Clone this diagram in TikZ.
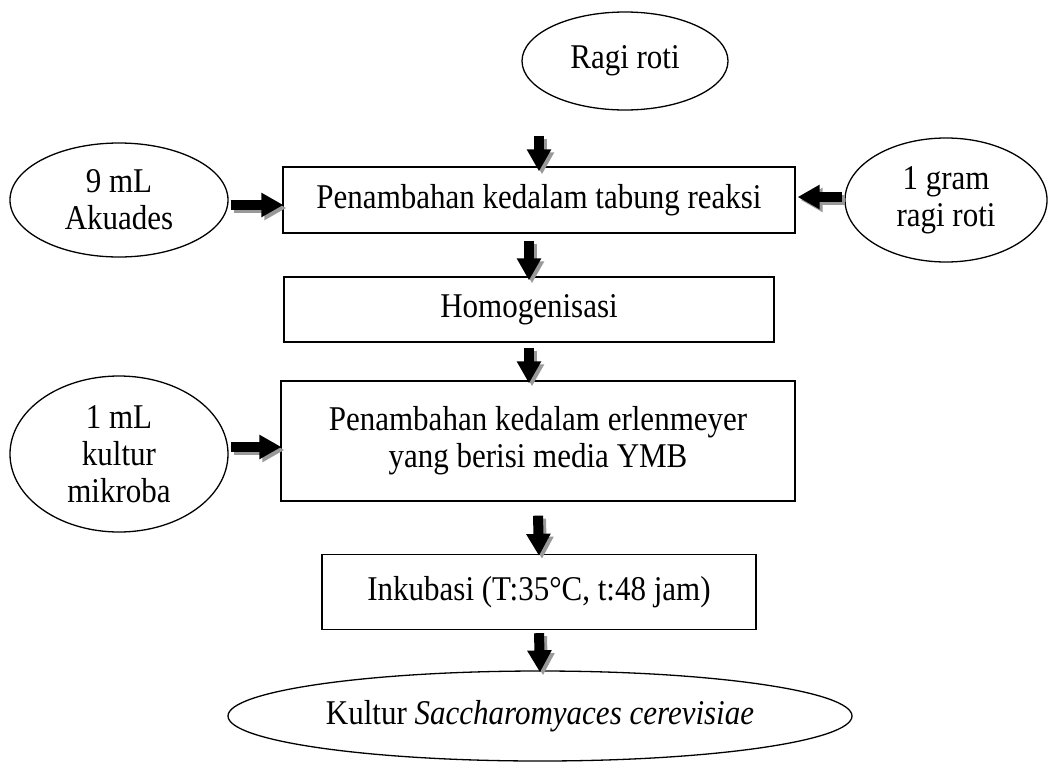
\documentclass[tikz,border=0pt]{standalone}
\usepackage{fontspec}
\usepackage{graphicx}
\setmainfont{Liberation Serif}
\usetikzlibrary{shapes.geometric,arrows.meta,calc}

% block arrow with a grey drop shadow
\newcommand\blockarrow[2]{%
  \draw[blockarr,draw=shadowgrey,transform canvas={shift={(3pt,-3pt)}}] #1 -- #2;
  \draw[blockarr] #1 -- #2;}
% slightly tall lettering
\newcommand\tall[1]{\scalebox{1}[1.12]{#1}}

\definecolor{shadowgrey}{gray}{0.6}

\tikzset{
  base/.style={draw=black,line width=1.3pt,inner sep=0pt,align=center,
    font=\fontsize{31}{37}\selectfont},
  stepbox/.style={base,rectangle},
  oval/.style={base,ellipse},
  blockarr/.style={line width=10pt,-{Triangle[width=23pt,length=22pt]}},
}

\begin{document}
\begin{tikzpicture}[x=1pt,y=-1pt]
\useasboundingbox (0,0) rectangle (1059,763);

% process boxes
\node[stepbox,minimum width=512,minimum height=66] (b1) at (539,200)
  {\tall{Penambahan kedalam tabung reaksi}};
\node[stepbox,minimum width=490,minimum height=65] (b2) at (529,309.5)
  {\tall{Homogenisasi}};
\node[stepbox,minimum width=514,minimum height=120] (b3) at (538,441)
  {\tall{Penambahan kedalam erlenmeyer}\\\tall{yang berisi media YMB}};
\node[stepbox,minimum width=434,minimum height=75] (b4) at (539,592)
  {\tall{Inkubasi (T:35°C, t:48 jam)}};

% inputs and result
\node[oval,minimum width=206,minimum height=98] (ragi) at (625,61) {\tall{Ragi roti}};
\node[oval,minimum width=218,minimum height=114] (aku) at (119,200)
  {\tall{9 mL}\\\tall{Akuades}};
\node[oval,minimum width=202,minimum height=124] (gram) at (946,200)
  {\tall{1 gram}\\\tall{ragi roti}};
\node[oval,minimum width=218,minimum height=156] (mik) at (119,454)
  {\tall{1 mL}\\\tall{kultur}\\\tall{mikroba}};
\node[oval,minimum width=624,minimum height=90] (kultur) at (540,716)
  {\tall{Kultur \textit{Saccharomyaces cerevisiae}}};

% connectors
\blockarrow{($(ragi.south -| b1.north)+(0,25)$)}{($(b1.north)+(0,5)$)}
\blockarrow{($(b2.north |- b1.south)+(0,7)$)}{($(b2.north)+(0,4)$)}
\blockarrow{($(b2.south)+(0,5)$)}{($(b2.south |- b3.north)+(0,3)$)}
\blockarrow{($(b3.south)+(0,14)$)}{($(b4.north)+(0,2)$)}
\blockarrow{($(b4.south)+(0,3)$)}{($(kultur.north)+(0,2)$)}
\blockarrow{($(aku.east)+(2,5)$)}{($(aku.east -| b1.west)+(1,5)$)}
\blockarrow{($(gram.west)+(-2,-3)$)}{($(gram.west -| b1.east)+(2,-3)$)}
\blockarrow{($(mik.east)+(2,-7)$)}{($(mik.east -| b3.west)+(1,-7)$)}
\end{tikzpicture}
\end{document}
